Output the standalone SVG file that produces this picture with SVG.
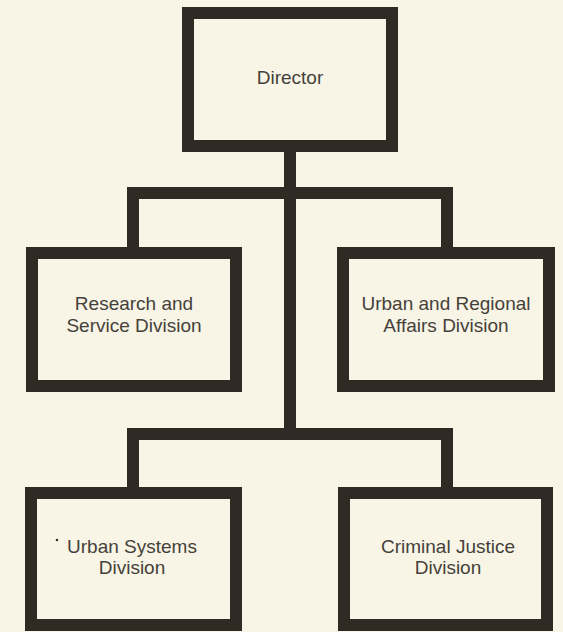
<svg xmlns="http://www.w3.org/2000/svg" width="563" height="632" viewBox="0 0 563 632">
<style>
.box{fill:#f8f5e6;stroke:#2f2b24;stroke-width:12;stroke-linejoin:miter}
.conn{fill:none;stroke:#2f2b24;stroke-width:12;stroke-linejoin:miter;stroke-linecap:butt}
.lbl{font-family:"Liberation Sans",Arial,sans-serif;font-size:19px;fill:#45413a;text-anchor:middle}
</style>
<rect x="0" y="0" width="563" height="632" fill="#f8f5e6"/>
<g id="connectors">
<path class="conn" d="M290,146 V434"/>
<path class="conn" d="M133,253 V193 H447 V253"/>
<path class="conn" d="M133,493 V434 H447 V493"/>
</g>
<g id="director">
<rect class="box" x="188" y="13" width="204" height="133"/>
<text class="lbl" x="290" y="84">Director</text>
</g>
<g id="research">
<rect class="box" x="32" y="253" width="204" height="133"/>
<text class="lbl" x="134" y="310">Research and</text>
<text class="lbl" x="134" y="332">Service Division</text>
</g>
<g id="urban-regional">
<rect class="box" x="343" y="253" width="206" height="133"/>
<text class="lbl" x="446" y="310">Urban and Regional</text>
<text class="lbl" x="446" y="332">Affairs Division</text>
</g>
<g id="urban-systems">
<rect class="box" x="31" y="493" width="205" height="132"/>
<circle cx="57" cy="540" r="1.3" fill="#3a362f"/>
<text class="lbl" x="132" y="553">Urban Systems</text>
<text class="lbl" x="132" y="574">Division</text>
</g>
<g id="criminal-justice">
<rect class="box" x="344" y="493" width="203" height="132"/>
<text class="lbl" x="448" y="553">Criminal Justice</text>
<text class="lbl" x="448" y="574">Division</text>
</g>
</svg>
